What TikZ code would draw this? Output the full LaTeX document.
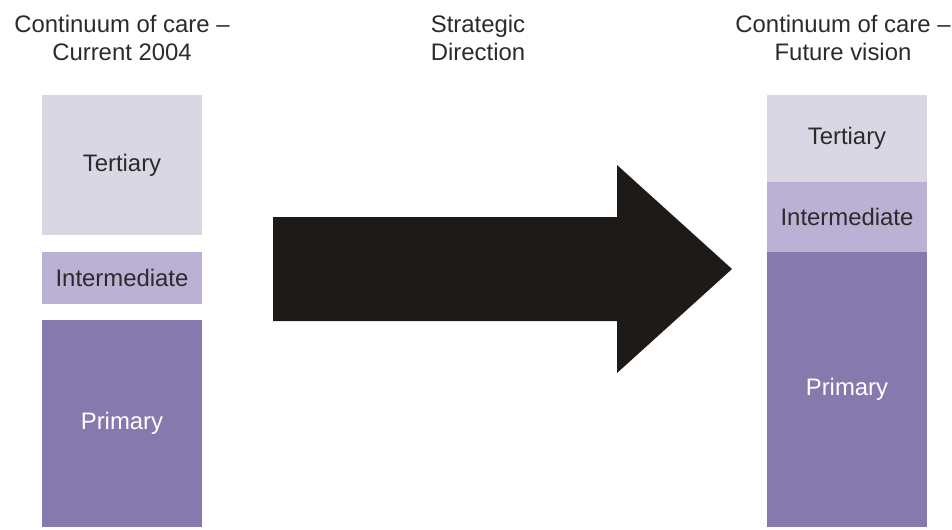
\documentclass[tikz,border=0pt]{standalone}
\usepackage{fontspec}
\setmainfont{Liberation Sans}
\usepackage{xcolor}
\usepackage{tikz}

\definecolor{tertcol}{HTML}{D9D7E4}
\definecolor{intcol}{HTML}{BAB1D5}
\definecolor{primcol}{HTML}{8579AE}
\definecolor{inkcol}{HTML}{2B2B2B}
\definecolor{arrowcol}{HTML}{1E1A18}

\begin{document}
\begin{tikzpicture}[x=0.02cm,y=-0.02cm,
    every node/.style={font=\fontsize{13.6}{16}\selectfont, text=inkcol},
    title/.style={align=center},
    block/.style={anchor=north west, inner sep=0pt, outer sep=0pt,
                  minimum width=3.2cm},
    tert/.style={block, fill=tertcol},
    inter/.style={block, fill=intcol},
    prim/.style={block, fill=primcol, text=white}]
 \useasboundingbox (0,0) rectangle (952,529);

%	headings
 \node[title] (curhead) at (122,38) {Continuum of care --\\Current 2004};
 \node[title] (dirhead) at (478,38) {Strategic\\Direction};
 \node[title] (futhead) at (843,38) {Continuum of care --\\Future vision};

%	current continuum
 \node[tert,  minimum height=2.8cm]  (curtert) at (42,95)  {Tertiary};
 \node[inter, minimum height=1.04cm] (curint)  at (42,252) {Intermediate};
 \node[prim,  minimum height=4.14cm] (curprim) at (42,320) {Primary};

%	future continuum
 \node[tert,  minimum height=1.74cm] (futtert) at (767,95)  {Tertiary};
 \node[inter, minimum height=1.4cm]  (futint)  at (767,182) {Intermediate};
 \node[prim,  minimum height=5.5cm]  (futprim) at (767,252) {Primary};

%	big arrow
 \fill[arrowcol]
		(273,217) -- (617,217) -- (617,165)
		-- (732,269)
		-- (617,373) -- (617,321) -- (273,321) -- cycle;
\end{tikzpicture}
\end{document}
